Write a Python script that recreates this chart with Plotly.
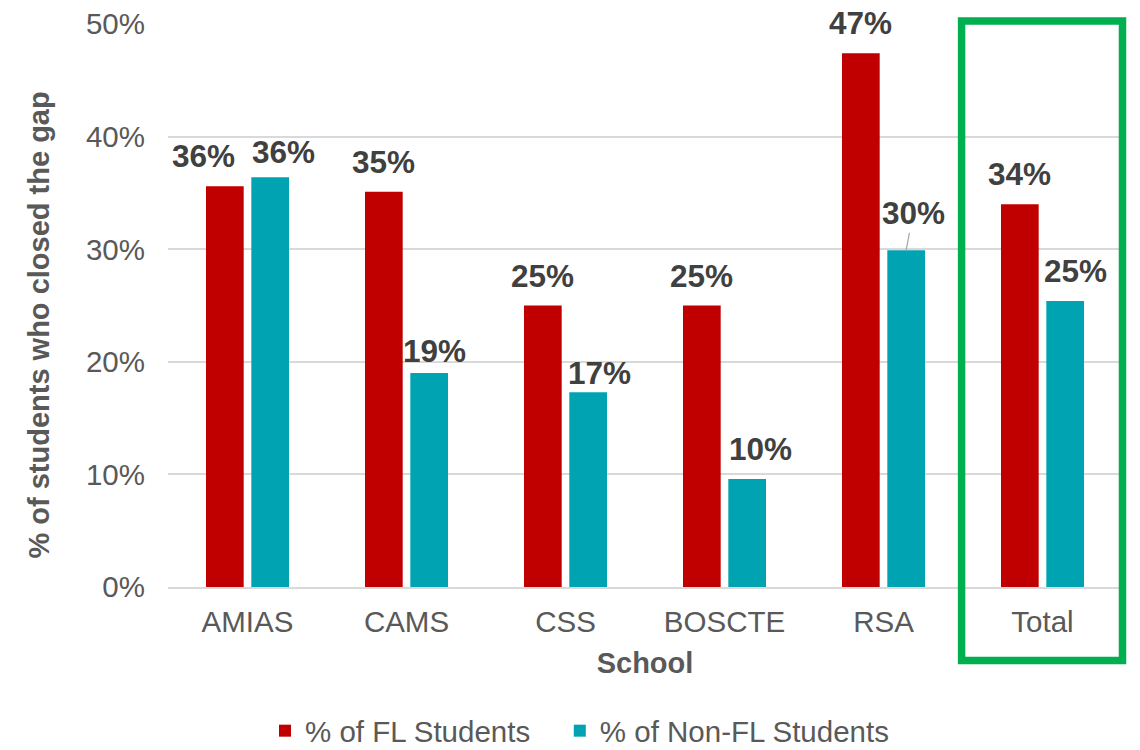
import plotly.graph_objects as go

# Share of students who closed the gap, by school (percent)
schools = ["AMIAS", "CAMS", "CSS", "BOSCTE", "RSA", "Total"]
fl_pct = [35.6, 35.1, 25.0, 25.0, 47.4, 34.0]
non_fl_pct = [36.4, 19.0, 17.3, 9.6, 29.9, 25.4]
y_ticks = [0, 10, 20, 30, 40, 50]
y_tick_text = [f"{t}%" for t in y_ticks]
series_names = ["% of FL Students", "% of Non-FL Students"]

FL_COLOR = "#C00000"
NON_FL_COLOR = "#00A3B2"
AXIS_GRAY = "#595959"
LABEL_GRAY = "#404040"
GRID_GRAY = "#D9D9D9"
FONT = "Arial, Liberation Sans, sans-serif"

# Plot-area geometry in pixels
W, H = 1140, 750
L, R, T, B = 168, 17.5, 24, 163
PW, PH = W - L - R, H - T - B


def px_x(px):
    return (px - L) / PW


def px_y(py):
    return (H - B - py) / PH


# Label nudges (pixels) so neighbouring value labels stay readable
fl_dx = [-21, 0, 0, 0, 0, 0]
fl_dy = [0, 0, 0, 0, 0, 0]
non_fl_dx = [13, 5, 11, 13, 7, 10]
non_fl_dy = [-5, -8, -11, 0, 0, 0]

BAR_SHIFT = 22.6  # half the slot of one bar inside a group
LEGEND_PAD = "\u00a0" * 3  # extra room between the two legend entries

fig = go.Figure()
fig.add_trace(go.Bar(name=series_names[0] + LEGEND_PAD, x=schools, y=fl_pct,
                     marker=dict(color=FL_COLOR, line=dict(width=0))))
fig.add_trace(go.Bar(name=series_names[1], x=schools, y=non_fl_pct,
                     marker=dict(color=NON_FL_COLOR, line=dict(width=0))))

annotations = []
for series, shift, dxs, dys in ((fl_pct, -BAR_SHIFT, fl_dx, fl_dy),
                               (non_fl_pct, BAR_SHIFT, non_fl_dx, non_fl_dy)):
    for school, val, dx, dy in zip(schools, series, dxs, dys):
        ann = dict(x=school, y=val, xref="x", yref="y", text=f"{val:.0f}%",
                   font=dict(family=FONT, size=31.5, color=LABEL_GRAY, weight="bold"),
                   xanchor="center", yanchor="bottom", showarrow=False,
                   xshift=shift + dx, yshift=10 + dy)
        if school == "RSA" and series is non_fl_pct:
            # leader line from the label down to the bar top
            ann.update(showarrow=True, arrowhead=0, arrowwidth=1.2,
                       arrowcolor="#A6A6A6", ax=dx, ay=-37,
                       xanchor="center", yanchor="middle", yshift=0, xshift=shift,
                       standoff=0)
        annotations.append(ann)

# y-axis title, placed as rotated text beside the tick labels
annotations.append(dict(
    text="% of students who closed the gap", textangle=-90,
    xref="paper", yref="paper", x=px_x(38), y=px_y(325.5),
    xanchor="center", yanchor="middle", showarrow=False,
    font=dict(family=FONT, size=29, color=AXIS_GRAY, weight="bold"),
))

fig.update_layout(
    width=W, height=H,
    margin=dict(l=L, r=R, t=T, b=B, autoexpand=False),
    paper_bgcolor="white", plot_bgcolor="white",
    font=dict(family=FONT, color=AXIS_GRAY, size=29.5),
    barmode="group", bargap=0.43, bargroupgap=0.168,
    showlegend=True,
    legend=dict(orientation="h", xref="container", yref="container",
                x=265 / W, xanchor="left", y=1 - 731 / H, yanchor="middle",
                font=dict(size=29.5, color=AXIS_GRAY), itemwidth=30,
                traceorder="normal"),
    annotations=annotations,
    shapes=[dict(type="rect", xref="paper", yref="paper",
                 x0=px_x(962), x1=px_x(1123), y0=px_y(660.5), y1=px_y(21),
                 line=dict(color="#00B050", width=7.5), layer="above")],
)

fig.update_xaxes(
    automargin=False,
    showline=True, linecolor=GRID_GRAY, linewidth=1.5, ticks="",
    ticklabelstandoff=8,
    tickfont=dict(size=29.5, color=AXIS_GRAY),
    title=dict(text="School", font=dict(size=29, color=AXIS_GRAY, weight="bold"), standoff=16),
)
fig.update_yaxes(
    automargin=False,
    range=[0, 50], tickvals=y_ticks, ticktext=y_tick_text,
    showgrid=True, gridcolor=GRID_GRAY, gridwidth=1.5, zeroline=False,
    showline=False, ticks="", ticklabelstandoff=22,
    tickfont=dict(size=29.5, color=AXIS_GRAY),
)

fig.write_html("out.html")
